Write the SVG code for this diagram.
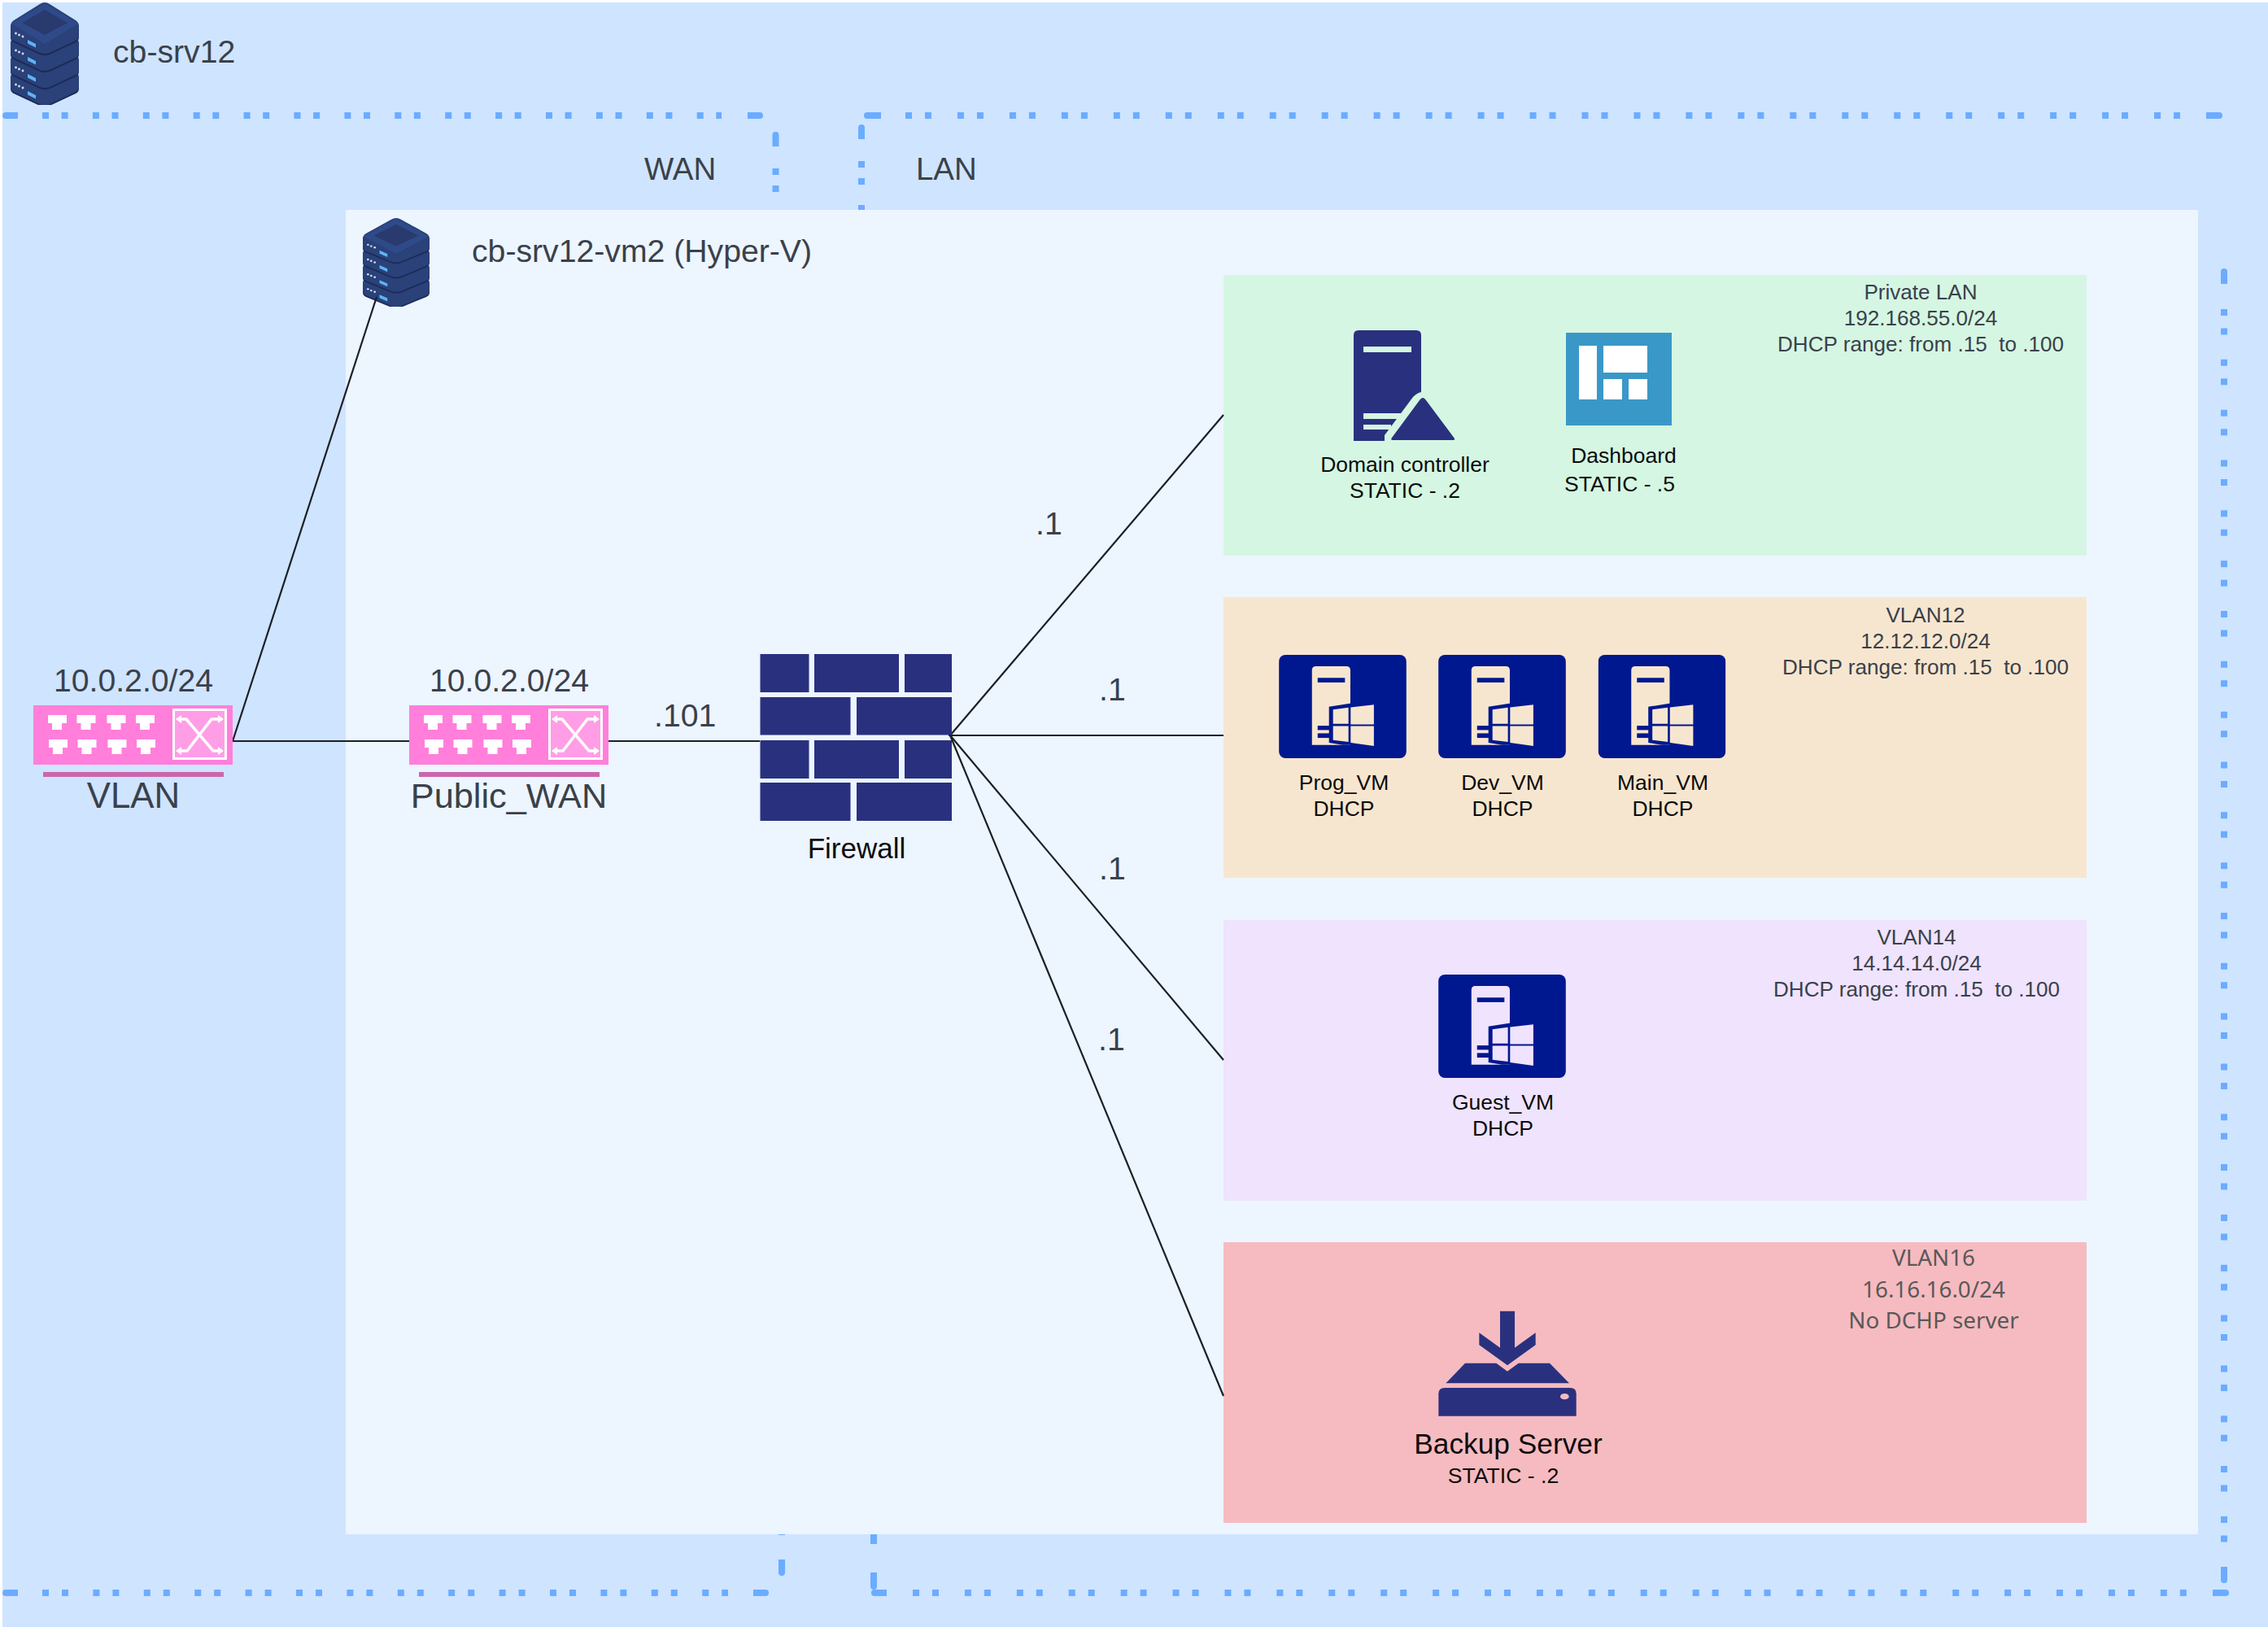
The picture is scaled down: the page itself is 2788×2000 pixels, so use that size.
<svg xmlns="http://www.w3.org/2000/svg" xmlns:xlink="http://www.w3.org/1999/xlink" width="2788" height="2000" viewBox="0 0 2788 2000">
<style>
text{font-family:"Liberation Sans",Arial,sans-serif;white-space:pre}
.h{fill:#3a414a;font-size:39.200px}
.b{fill:#0c0c0c;font-size:26.500px;text-anchor:middle}
.i{fill:#3a414a;font-size:26.100px;text-anchor:middle}
.n{fill:#595959;font-size:27.800px;text-anchor:middle;font-family:"Noto Sans",sans-serif}
.m{text-anchor:middle}
.dd{stroke:#6bacff;stroke-width:8;fill:none}
.cap{fill:#6bacff}
.cn{stroke:#1c1f26;stroke-width:2.200;fill:none}
.navy{fill:#29317f}
.sw{fill:#ff7fdb}
.bar{fill:#cc66ad}
</style>
<defs>
<g id="lyr">
<path d="M42 2Q45 2 48 4L80 24Q84 27 84 31V43Q84 47 80 49L48 64Q42 66 36 64L4 49Q0 47 0 43V31Q0 27 4 24L36 4Q39 2 42 2Z" fill="#1b2a55"/>
<path d="M42 0Q45 0 48 2L80 22Q84 25 84 29V41Q84 45 80 47L48 62Q42 64 36 62L4 47Q0 45 0 41V29Q0 25 4 22L36 2Q39 0 42 0Z" fill="#2a4179"/>
<circle cx="6.5" cy="38" r="1.4" fill="#cfe0f5"/><circle cx="10.5" cy="40" r="1.4" fill="#cfe0f5"/><circle cx="15" cy="42" r="1.4" fill="#cfe0f5"/>
<path d="M21 46L31 51V55.500L21 50.500Z" fill="#5db4f5"/>
</g>
<symbol id="srv" viewBox="0 0 84 126" preserveAspectRatio="none">
<use href="#lyr" y="63"/><use href="#lyr" y="42"/><use href="#lyr" y="21"/><use href="#lyr"/>
<path d="M42 1L83 26L42 51L1 26Z" fill="#2f4a88"/>
<path d="M42 9L70 25L42 40L14 25Z" fill="#283a6e"/>
</symbol>
<symbol id="swi" viewBox="0 0 245 73">
<rect width="245" height="73" class="sw"/>
<g fill="#fff">
<path id="pt" d="M18 12H41V22H35V30H23V22H18Z"/>
<use href="#pt" x="35.500"/><use href="#pt" x="72.500"/><use href="#pt" x="108"/>
<use href="#pt" x="1" y="30"/><use href="#pt" x="36.500" y="30"/><use href="#pt" x="73.500" y="30"/><use href="#pt" x="109" y="30"/>
</g>
<rect x="172.500" y="5.500" width="64" height="60" fill="#ff9ee6" stroke="#fff" stroke-width="3"/>
<g stroke="#fff" stroke-width="3.500" fill="none"><path d="M180 17H188L221 56H229"/><path d="M229 17H219L189 56H180"/></g>
<g fill="#fff"><path d="M175 17L182 12V22Z"/><path d="M234 17L227 12V22Z"/><path d="M175 56L182 51V61Z"/><path d="M234 56L227 51V61Z"/></g>
</symbol>
<symbol id="vm" viewBox="65 45 471 382">
<rect x="65" y="45" width="471" height="382" rx="24" fill="#00188f"/>
<path d="M187 102Q187 87 202 87H314Q329 87 329 102V378H187Z" fill="currentColor"/>
<rect x="208" y="130" width="101" height="17" fill="#00188f"/>
<rect x="208" y="307" width="44" height="16" fill="#00188f"/>
<rect x="208" y="335" width="44" height="17" fill="#00188f"/>
<path d="M250 237L332 224V378H300L250 370Z" fill="#00188f"/>
<g fill="currentColor">
<path d="M265 247L322 240V300H265Z"/><path d="M330 239L416 229V302H330Z"/>
<path d="M265 308H322V367L265 360Z"/><path d="M330 308H416V382L330 370Z"/>
</g>
</symbol>
</defs>

<g id="host-cb-srv12">
<rect x="3" y="3" width="2785" height="1997" fill="#cfe4ff"/>
<g id="zones-dotted">
<path class="cap" d="M22 138H7A4 4 0 0 0 7 146H22Z"/>
<path class="dd" stroke-dasharray="8 15.600 8 30.300" d="M52 142H887"/>
<path class="cap" d="M919 138H934A4 4 0 0 1 934 146H919Z"/>
<path class="cap" d="M1083 138H1066A4 4 0 0 0 1066 146H1083Z"/>
<path class="dd" stroke-dasharray="8 16 8 31.960" d="M1113 142H2680"/>
<path class="cap" d="M2712 138H2728A4 4 0 0 1 2728 146H2712Z"/>
<path class="cap" d="M949.500 180V166A4 4 0 0 1 957.500 166V180Z"/>
<rect class="cap" x="949.500" y="207" width="8" height="8"/>
<rect class="cap" x="949.500" y="228" width="8" height="8"/>
<path class="cap" d="M1055 171V157A4 4 0 0 1 1063 157V171Z"/>
<rect class="cap" x="1055" y="198" width="8" height="8"/>
<rect class="cap" x="1055" y="219" width="8" height="8"/>
<rect class="cap" x="1055" y="252" width="8" height="8"/>
<path class="cap" d="M2730 349V334A4 4 0 0 1 2738 334V349Z"/>
<path class="dd" stroke-dasharray="8 15.500 8 30.330" d="M2734 380V1896"/>
<path class="cap" d="M2730 1926V1942A4 4 0 0 0 2738 1942V1926Z"/>
<path class="cap" d="M2720 1954H2736A4 4 0 0 1 2736 1962H2720Z"/>
<path class="dd" stroke-dasharray="8 16 8 31.910" d="M1122 1958H2689"/>
<path class="cap" d="M1090 1954H1075A4 4 0 0 0 1075 1962H1090Z"/>
<path class="cap" d="M1070 1933V1950A4 4 0 0 0 1078 1950V1933Z"/>
<rect class="cap" x="1070" y="1884" width="8" height="14"/>
<path class="cap" d="M957 1917V1933A4 4 0 0 0 965 1933V1917Z"/>
<rect class="cap" x="957" y="1884" width="8" height="3"/>
<path class="dd" stroke-dasharray="8 16 8 30.400" d="M52 1958H895"/>
<path class="cap" d="M22 1954H7A4 4 0 0 0 7 1962H22Z"/>
<path class="cap" d="M926 1954H941A4 4 0 0 1 941 1962H926Z"/>
</g>
<use href="#srv" x="13" y="3" width="84" height="126"/>
<text class="h" x="139" y="77">cb-srv12</text>
<text class="h" x="792" y="221" style="font-size:38.400px">WAN</text>
<text class="h" x="1126" y="221" style="font-size:38.400px">LAN</text>
</g>

<g id="host-cb-srv12-vm2">
<rect x="425" y="258" width="2277" height="1628" fill="#edf5ff"/>
<use href="#srv" x="446" y="268" width="82" height="109"/>
<text class="h" x="580" y="322">cb-srv12-vm2 (Hyper-V)</text>
</g>

<g id="zone-private-lan">
<rect x="1504" y="338" width="1061" height="345" fill="#d5f6e2"/>
<text class="i" x="2361" y="368">Private LAN</text>
<text class="i" x="2361" y="400">192.168.55.0/24</text>
<text class="i" x="2361" y="432">DHCP range: from .15  to .100</text>
</g>
<g id="zone-vlan12">
<rect x="1504" y="734" width="1061" height="345" fill="#f7e6cf"/>
<text class="i" x="2367" y="765">VLAN12</text>
<text class="i" x="2367" y="797">12.12.12.0/24</text>
<text class="i" x="2367" y="829">DHCP range: from .15  to .100</text>
</g>
<g id="zone-vlan14">
<rect x="1504" y="1131" width="1061" height="345" fill="#efe3fd"/>
<text class="i" x="2356" y="1161">VLAN14</text>
<text class="i" x="2356" y="1193">14.14.14.0/24</text>
<text class="i" x="2356" y="1225">DHCP range: from .15  to .100</text>
</g>
<g id="zone-vlan16">
<rect x="1504" y="1527" width="1061" height="345" fill="#f6bbc0"/>
<text class="n" x="2377" y="1556">VLAN16</text>
<text class="n" x="2377" y="1595">16.16.16.0/24</text>
<text class="n" x="2377" y="1633">No DCHP server</text>
</g>

<g id="connectors">
<path class="cn" d="M286 911L463 365"/>
<path class="cn" d="M286 911H503"/>
<path class="cn" d="M748 911H934"/>
<path class="cn" d="M1168 904L1504 510"/>
<path class="cn" d="M1166 904H1504"/>
<path class="cn" d="M1168 904L1504 1303"/>
<path class="cn" d="M1168 904L1504 1716"/>
</g>

<g id="switch-vlan">
<text class="h m" x="164" y="850">10.0.2.0/24</text>
<use href="#swi" x="41" y="867" width="245" height="73"/>
<rect class="bar" x="53" y="949" width="222" height="6"/>
<text class="h m" x="164" y="993" style="font-size:43.800px">VLAN</text>
</g>
<g id="switch-public-wan">
<text class="h m" x="626" y="850">10.0.2.0/24</text>
<use href="#swi" x="503" y="867" width="245" height="73"/>
<rect class="bar" x="515" y="949" width="222" height="6"/>
<text class="h m" x="625.500" y="993" style="font-size:43.300px">Public_WAN</text>
</g>
<text id="label-101" class="h" x="804" y="893">.101</text>

<g id="firewall">
<g class="navy">
<rect x="934.500" y="804" width="60" height="47"/><rect x="1001" y="804" width="104" height="47"/><rect x="1112" y="804" width="58" height="47"/>
<rect x="934.500" y="857" width="111" height="46.500"/><rect x="1053" y="857" width="117" height="46.500"/>
<rect x="934.500" y="910" width="60" height="47"/><rect x="1001" y="910" width="104" height="47"/><rect x="1112" y="910" width="58" height="47"/>
<rect x="934.500" y="962" width="111" height="47"/><rect x="1053" y="962" width="117" height="47"/>
</g>
<text class="b" x="1053" y="1055" style="font-size:35px">Firewall</text>
</g>
<g id="labels-gateway">
<text class="h" x="1273" y="657">.1</text>
<text class="h" x="1351" y="861">.1</text>
<text class="h" x="1351" y="1081">.1</text>
<text class="h" x="1350" y="1291">.1</text>
</g>

<g id="node-domain-controller">
<path class="navy" d="M1664 412Q1664 406 1670 406H1741Q1747 406 1747 412V482Q1742 483 1737 488L1702 535V542H1664Z"/>
<g fill="#d5f6e2">
<rect x="1676" y="426" width="59" height="7"/>
<rect x="1676" y="508" width="46" height="7"/>
<rect x="1676" y="522" width="34" height="6"/>
</g>
<path class="navy" d="M1749 489Q1751 489 1753 492L1788 539Q1789 541 1786 541H1712Q1709 541 1711 538L1745 492Q1747 489 1749 489Z"/>
<text class="b" x="1727" y="580">Domain controller</text>
<text class="b" x="1727" y="612">STATIC - .2</text>
</g>
<g id="node-dashboard">
<rect x="1925" y="409" width="130" height="114" fill="#3a98c8"/>
<g fill="#fff">
<rect x="1941" y="425" width="22" height="66"/>
<rect x="1971" y="425" width="54" height="33"/>
<rect x="1971" y="466" width="23" height="25"/>
<rect x="2002" y="466" width="23" height="25"/>
</g>
<text class="b" x="1996" y="569">Dashboard</text>
<text class="b" x="1991" y="604">STATIC - .5</text>
</g>
<g id="node-prog-vm">
<use href="#vm" x="1572" y="805" width="157" height="127" color="#f7e6cf"/>
<text class="b" x="1652" y="971">Prog_VM</text>
<text class="b" x="1652" y="1003">DHCP</text>
</g>
<g id="node-dev-vm">
<use href="#vm" x="1768" y="805" width="157" height="127" color="#f7e6cf"/>
<text class="b" x="1847" y="971">Dev_VM</text>
<text class="b" x="1847" y="1003">DHCP</text>
</g>
<g id="node-main-vm">
<use href="#vm" x="1964.500" y="805" width="157" height="127" color="#f7e6cf"/>
<text class="b" x="2044" y="971">Main_VM</text>
<text class="b" x="2044" y="1003">DHCP</text>
</g>
<g id="node-guest-vm">
<use href="#vm" x="1768" y="1198" width="157" height="127" color="#efe3fd"/>
<text class="b" x="1847.500" y="1364">Guest_VM</text>
<text class="b" x="1847.500" y="1396">DHCP</text>
</g>
<g id="node-backup-server">
<g transform="translate(1700 1590) scale(.33333)">
<path class="navy" d="M355 145L432 200V65H486V200L563 145V190L459 265L355 190Z"/>
<path class="navy" d="M303 257H418L459 287L500 257H615L687 331H232Z"/>
<path class="navy" d="M205 370Q205 348 228 348H690Q713 348 713 370V452H205Z"/>
<ellipse cx="670" cy="380" rx="16" ry="11" fill="#f6bbc0"/>
</g>
<text class="b" x="1854" y="1787" style="font-size:35.300px">Backup Server</text>
<text class="b" x="1848" y="1823" style="font-size:26.600px">STATIC - .2</text>
</g>
</svg>
